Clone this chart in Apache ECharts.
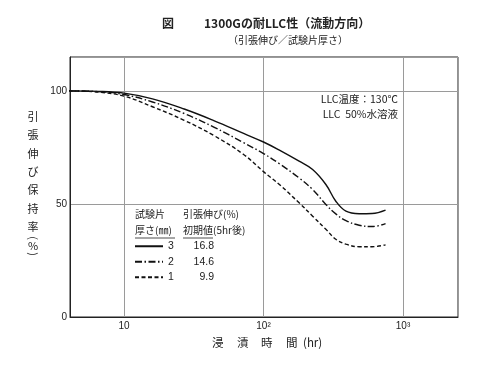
<!DOCTYPE html>
<html>
<head>
<meta charset="utf-8">
<script src="https://cdn.jsdelivr.net/npm/echarts@6/dist/echarts.min.js"></script>
<style>html,body{margin:0;padding:0;background:#fff}#c{width:500px;height:372px}</style>
</head>
<body>
<div id="c"></div>
<script>
// immersion time (hr)
const hours = [4, 6.5, 10, 16, 27, 44, 72, 100, 130, 180, 225, 280, 330, 390, 485, 600, 750];
// retention (%) per specimen thickness
const thick3 = [100, 99.8, 99, 96.5, 92, 86.9, 81.2, 77.4, 73.8, 68.9, 65.2, 58.6, 51.2, 46.8, 45.7, 45.8, 47.3];
const thick2 = [100, 99.7, 98.4, 95.1, 90, 84, 77.1, 72.3, 67.8, 61.5, 56.4, 49.8, 45.6, 42.6, 40.6, 40, 41.3];
const thick1 = [100, 99.5, 97.7, 93, 87, 80.3, 71.9, 64.3, 58.6, 50.5, 44.6, 38.8, 34.4, 32.2, 31.1, 31.1, 31.9];
const seriesNames = ['3', '2', '1'];
const initialValues = ['16.8', '14.6', '9.9'];
const xTickLabels = {10: '10', 100: '10²', 1000: '10³'};
const yTicks = [0, 50, 100];

const FONT = '"Noto Sans CJK JP", "Noto Sans", sans-serif';
const NUMFONT = '"Liberation Sans Narrow", "Liberation Sans", "Noto Sans CJK JP", sans-serif';
const INK = '#222';

function pairs(vals) { return hours.map((h, i) => [h, vals[i]]); }

const chart = echarts.init(document.getElementById('c'), null, {renderer: 'canvas'});
const dashTypes = ['solid', [7, 2.5, 1.5, 2.5], [4, 2.5]];
const allVals = [thick3, thick2, thick1];

const yName = ['引', '張', '伸', 'び', '保', '持', '率'];
const graphics = [];
yName.forEach((ch, i) => {
  graphics.push({type: 'text', x: 33, y: 117 + i * 18.3,
    style: {text: ch, font: '11px ' + FONT, fill: INK, align: 'center', verticalAlign: 'middle'}});
});
graphics.push({type: 'text', x: 33, y: 238, rotation: -Math.PI / 2, style: {text: '(', font: '11px ' + FONT, fill: INK, align: 'center', verticalAlign: 'middle'}});
graphics.push({type: 'text', x: 33, y: 246, style: {text: '%', font: '11px ' + FONT, fill: INK, align: 'center', verticalAlign: 'middle'}});
graphics.push({type: 'text', x: 33, y: 254, rotation: -Math.PI / 2, style: {text: ')', font: '11px ' + FONT, fill: INK, align: 'center', verticalAlign: 'middle'}});

// titles
graphics.push({type: 'text', left: 162, top: 17, style: {text: '図', font: 'bold 12px ' + FONT, fill: INK}});
graphics.push({type: 'text', left: 204, top: 17, style: {text: '1300Gの耐LLC性（流動方向）', font: 'bold 12px ' + FONT, fill: INK}});
graphics.push({type: 'text', left: 228, top: 35, style: {text: '（引張伸び／試験片厚さ）', font: '10px ' + FONT, fill: INK}});

// annotation
graphics.push({type: 'text', right: 102, top: 94, style: {text: 'LLC温度：130℃', font: '10.5px ' + FONT, fill: INK, align: 'right'}});
graphics.push({type: 'text', right: 102, top: 109, style: {text: 'LLC  50%水溶液', font: '10.5px ' + FONT, fill: INK, align: 'right'}});

// x axis name
const xName = [['浸', 212], ['漬', 237], ['時', 261], ['間', 286], ['(hr)', 303]];
xName.forEach(([t, x]) => {
  graphics.push({type: 'text', left: x, top: 337, style: {text: t, font: '11.5px ' + FONT, fill: INK}});
});

// legend header
graphics.push({type: 'text', left: 135, top: 209, style: {text: '試験片', font: '10px ' + FONT, fill: INK}});
graphics.push({type: 'text', left: 183, top: 209, style: {text: '引張伸び(%)', font: '10px ' + FONT, fill: INK}});
graphics.push({type: 'text', left: 135, top: 225, style: {text: '厚さ(㎜)', font: '10px ' + FONT, fill: INK}});
graphics.push({type: 'text', left: 183, top: 225, style: {text: '初期値(5hr後)', font: '10px ' + FONT, fill: INK}});
graphics.push({type: 'line', shape: {x1: 135, y1: 238, x2: 175, y2: 238}, style: {stroke: INK, lineWidth: 0.8}});
graphics.push({type: 'line', shape: {x1: 183, y1: 238, x2: 213, y2: 238}, style: {stroke: INK, lineWidth: 0.8}});

const option = {
  animation: false,
  backgroundColor: '#fff',
  grid: {left: 70, right: 42, top: 57, bottom: 55, show: true, borderColor: INK, borderWidth: 1, backgroundColor: 'transparent'},
  xAxis: {
    type: 'log', logBase: 10, min: 4.1, max: 2480,
    axisLine: {show: true, lineStyle: {color: INK, width: 1}},
    axisTick: {show: false},
    splitLine: {show: true, lineStyle: {color: '#9a9a9a', width: 1}},
    axisLabel: {
      showMinLabel: false, showMaxLabel: false, margin: 4,
      color: INK, fontSize: 10, fontFamily: NUMFONT,
      formatter: v => xTickLabels[Math.round(v)] || ''
    }
  },
  yAxis: {
    type: 'value', min: 0, max: 115, interval: 50,
    axisLine: {show: true, lineStyle: {color: INK, width: 1}},
    axisTick: {show: false},
    splitLine: {show: true, lineStyle: {color: '#9a9a9a', width: 1}},
    axisLabel: {
      showMaxLabel: false, margin: 3, color: INK, fontSize: 10, fontFamily: NUMFONT,
      formatter: v => yTicks.indexOf(v) >= 0 ? String(v) : ''
    }
  },
  legend: {
    orient: 'vertical', left: 134, top: 241, itemWidth: 28, itemHeight: 10, itemGap: 5, padding: 0,
    data: seriesNames,
    itemStyle: {color: 'rgba(0,0,0,0)', borderColor: 'rgba(0,0,0,0)', borderWidth: 0},
    textStyle: {color: INK, fontFamily: NUMFONT, fontSize: 10.5,
      rich: {n: {width: 22, fontSize: 10.5, fontFamily: NUMFONT, color: INK}, v: {width: 24, align: 'right', fontSize: 10.5, fontFamily: NUMFONT, color: INK}}},
    formatter: name => '{n|' + name + '}{v|' + initialValues[seriesNames.indexOf(name)] + '}'
  },
  series: seriesNames.map((n, i) => ({
    name: n, type: 'line', data: pairs(allVals[i]), smooth: 0.4,
    symbol: 'none', showSymbol: false,
    lineStyle: {color: '#111', width: 1.4, type: dashTypes[i]},
    itemStyle: {color: '#111'}
  })),
  graphic: graphics
};
chart.setOption(option);
</script>
</body>
</html>
